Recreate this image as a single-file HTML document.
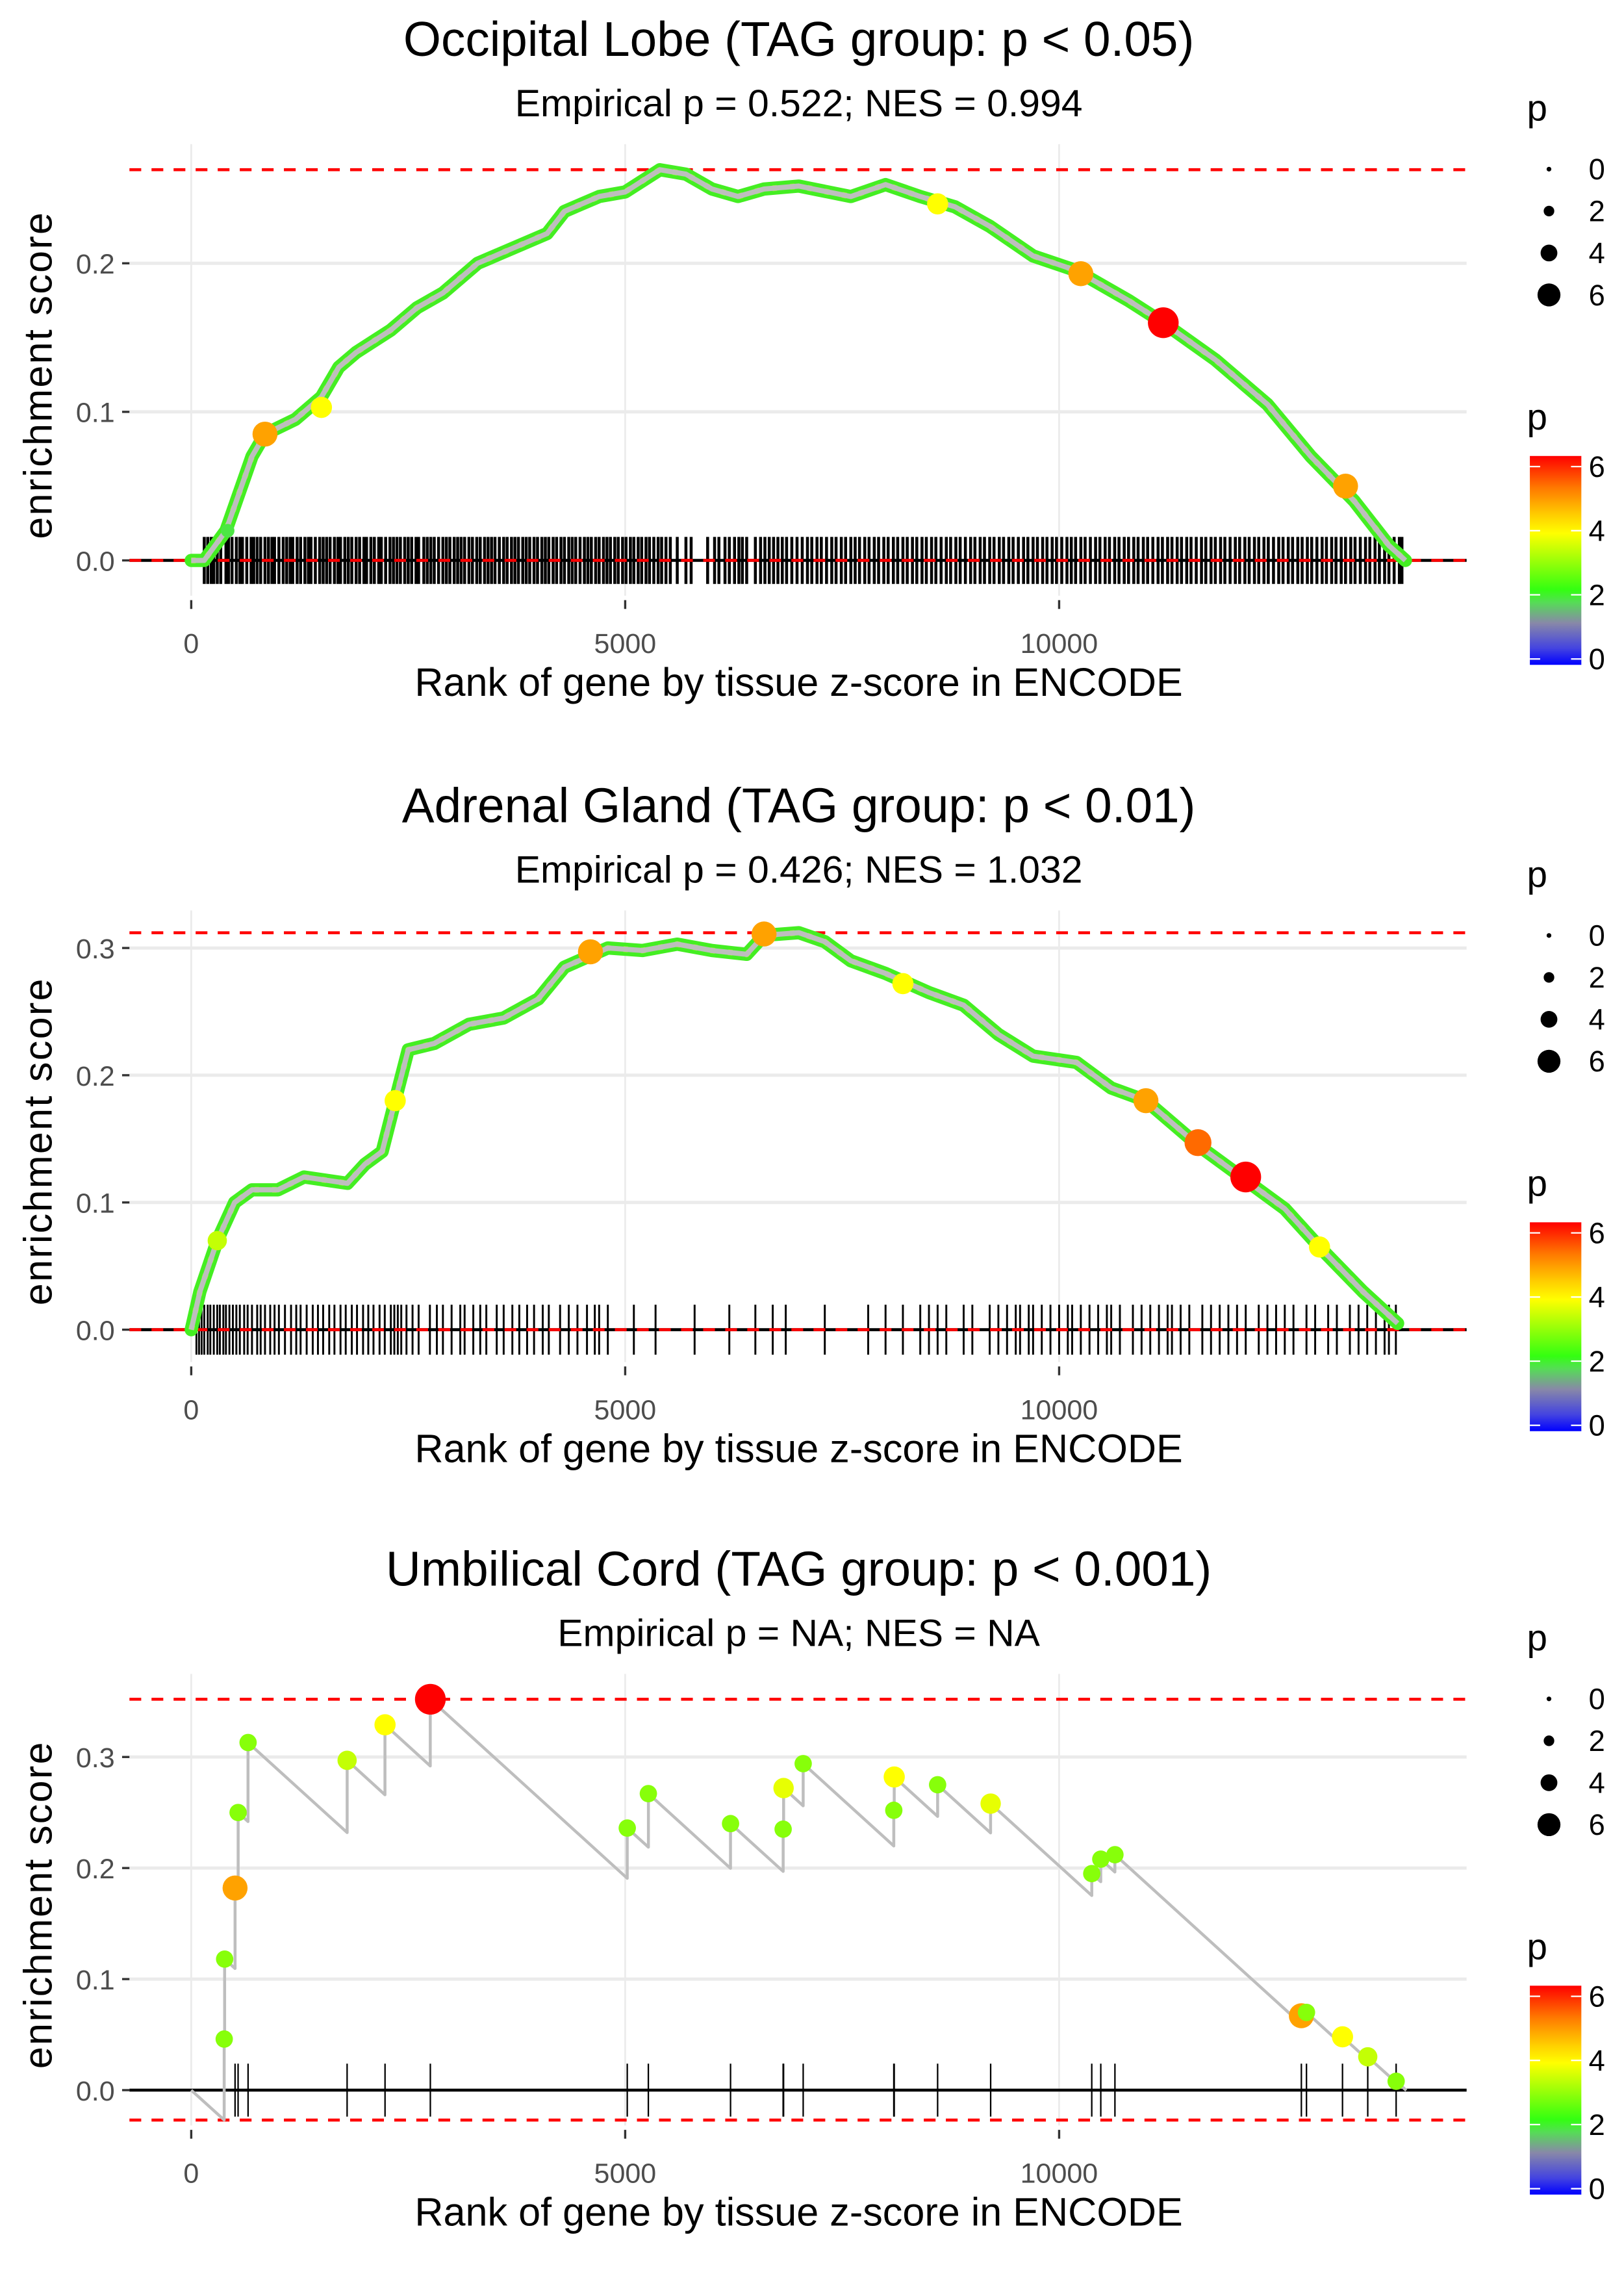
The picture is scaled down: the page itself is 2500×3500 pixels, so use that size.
<!DOCTYPE html>
<html><head><meta charset="utf-8">
<style>
html,body{margin:0;padding:0;background:#fff;}
svg{display:block;}
text{font-family:"Liberation Sans",sans-serif;}
</style></head>
<body>
<svg id="chart" width="2500" height="3500" viewBox="0 0 1104 1546" preserveAspectRatio="none" xmlns="http://www.w3.org/2000/svg">
<defs>
<linearGradient id="cbar" x1="0" y1="1" x2="0" y2="0">
<stop offset="0" stop-color="#0000ff"/>
<stop offset="0.08" stop-color="#4444e0"/>
<stop offset="0.2" stop-color="#8888a8"/>
<stop offset="0.3" stop-color="#55dd55"/>
<stop offset="0.36" stop-color="#33ff11"/>
<stop offset="0.63" stop-color="#ffff00"/>
<stop offset="0.72" stop-color="#ffcc00"/>
<stop offset="0.85" stop-color="#ff7700"/>
<stop offset="1" stop-color="#ff0000"/>
</linearGradient>
</defs>
</svg>
<script>
// ---- Panel 1 data: Occipital Lobe ----
const p1CurveRank=[0,150,400,700,850,1200,1500,1700,1900,2300,2600,2900,3300,3700,4100,4300,4700,5000,5400,5700,6000,6300,6600,7000,7600,8000,8400,8800,9200,9700,10200,10800,11200,11800,12400,12900,13400,13800,13990];
const p1CurveES=[0,0,0.02,0.07,0.085,0.095,0.11,0.13,0.14,0.155,0.17,0.18,0.2,0.21,0.22,0.235,0.245,0.248,0.263,0.26,0.25,0.245,0.25,0.252,0.245,0.253,0.245,0.238,0.225,0.205,0.195,0.175,0.16,0.135,0.105,0.07,0.04,0.01,0];
const p1PtRank=[850,1500,8600,10250,11200,13300,420];
const p1PtES=[0.085,0.103,0.24,0.193,0.16,0.05,0.02];
const p1PtP=[5,4,4,5,6.5,5,2];
const p1Hits=[150,190,230,260,300,340,400,430,470,520,560,590,640,690,720,760,800,850,890,930,960,1010,1060,1100,1140,1170,1220,1260,1310,1350,1380,1430,1480,1520,1560,1600,1650,1690,1720,1770,1810,1850,1900,1940,1990,2020,2070,2110,2160,2190,2240,2290,2330,2370,2410,2460,2500,2540,2590,2620,2680,2720,2760,2800,2850,2900,2940,2980,3030,3070,3110,3150,3200,3240,3290,3330,3380,3420,3460,3500,3550,3600,3640,3690,3730,3770,3820,3860,3900,3950,3990,4040,4080,4120,4170,4210,4260,4300,4350,4390,4430,4480,4530,4570,4610,4660,4700,4750,4790,4830,4880,4920,4970,5010,5060,5100,5150,5190,5240,5280,5330,5380,5420,5470,5520,5600,5700,5760,5950,6030,6080,6150,6200,6260,6310,6350,6400,6500,6560,6610,6660,6710,6760,6810,6860,6920,6980,7040,7100,7150,7210,7260,7320,7380,7430,7490,7540,7600,7650,7700,7760,7810,7870,7920,7980,8030,8090,8140,8200,8250,8310,8360,8420,8470,8530,8580,8640,8700,8750,8810,8860,8920,8980,9030,9090,9140,9200,9250,9310,9360,9420,9470,9530,9590,9640,9700,9750,9810,9860,9920,9970,10030,10090,10140,10190,10250,10300,10360,10420,10470,10530,10580,10640,10690,10750,10800,10860,10910,10970,11020,11080,11140,11190,11250,11300,11360,11410,11470,11520,11580,11640,11690,11750,11800,11860,11910,11970,12030,12080,12140,12190,12250,12300,12360,12410,12470,12530,12580,12640,12690,12750,12800,12860,12910,12970,13030,13080,13140,13190,13250,13300,13360,13410,13470,13530,13580,13640,13690,13750,13800,13860,13920,13950];

// ---- Panel 2 data: Adrenal Gland ----
const p2CurveRank=[0,100,300,500,700,1000,1300,1800,2000,2200,2350,2500,2800,3200,3600,4000,4300,4800,5200,5600,6000,6400,6600,7000,7300,7600,8000,8500,8900,9300,9700,10200,10600,11000,11600,12100,12600,13000,13500,13900];
const p2CurveES=[0,0.03,0.07,0.1,0.11,0.11,0.12,0.115,0.13,0.14,0.18,0.22,0.225,0.24,0.245,0.26,0.285,0.3,0.298,0.303,0.298,0.295,0.31,0.312,0.305,0.29,0.28,0.265,0.255,0.232,0.215,0.21,0.19,0.18,0.145,0.12,0.095,0.065,0.03,0.005];
const p2PtRank=[4600,6600,2350,11000,11600,12150,13000,8200,300];
const p2PtES=[0.297,0.311,0.18,0.18,0.147,0.12,0.065,0.272,0.07];
const p2PtP=[5,5,4,5,5.5,6.5,4,4,3.5];
const p2Hits=[60,90,120,150,190,220,260,300,330,370,400,440,480,520,560,610,650,700,760,800,850,910,960,1010,1080,1150,1210,1260,1330,1400,1460,1520,1590,1650,1720,1780,1850,1910,1980,2040,2100,2170,2230,2300,2340,2380,2420,2480,2550,2620,2750,2830,2900,3000,3100,3150,3250,3330,3400,3520,3600,3700,3780,3870,3950,4050,4120,4250,4350,4450,4560,4650,4700,4800,5100,5350,5800,6200,6500,6700,6850,7300,7800,8000,8200,8400,8500,8600,8700,8900,9000,9200,9300,9400,9500,9550,9650,9700,9800,9900,10000,10100,10150,10250,10350,10450,10550,10600,10700,10850,10950,11050,11150,11250,11300,11400,11500,11650,11750,11850,11950,12050,12150,12300,12400,12500,12600,12700,12850,12950,13100,13200,13350,13450,13550,13650,13750,13800,13880];

// ---- Panel 3 data: Umbilical Cord (hit rank, ES after hit, p) ----
const p3HitRank=[380,385,505,540,655,1796,2233,2755,5024,5267,6214,6820,6825,7051,8095,8100,8600,9211,10376,10480,10643,12791,12850,13265,13556,13883];
const p3HitES=[0.046,0.118,0.182,0.25,0.313,0.297,0.329,0.352,0.236,0.267,0.24,0.235,0.272,0.294,0.252,0.282,0.275,0.258,0.195,0.208,0.212,0.067,0.07,0.048,0.03,0.008];
const p3HitP=[3,3,5,3,3,3.5,4,6.5,3,3,3,3,3.8,3,3,4,3,3.8,3,3,3,5,3,4,3.5,3];
const p3MissStep=0.0000711;
const p3NGenes=14000;

const yTicks1=[0,0.1,0.2], yTicks2=[0,0.1,0.2,0.3], yTicks3=[0,0.1,0.2,0.3];
const xTicks=[0,5000,10000];
const legendVals=[0,2,4,6];
const cbarLabels=[6,4,2,0];

const NS="http://www.w3.org/2000/svg";
const svg=document.getElementById('chart');
function mk(tag,attrs,parent){const e=document.createElementNS(NS,tag);for(const k in attrs)e.setAttribute(k,attrs[k]);(parent||svg).appendChild(e);return e;}
function txt(s,attrs,parent){const e=mk('text',attrs,parent);e.textContent=s;return e;}
const X=r=>130+r*295/5000;
function pColor(p){
  const st=[[0,[0,0,255]],[0.5,[68,68,224]],[1.2,[136,136,168]],[1.9,[85,221,85]],[2.3,[51,255,17]],[4,[255,255,0]],[4.6,[255,204,0]],[5.4,[255,119,0]],[6.3,[255,0,0]]];
  if(p<=0)return 'rgb(0,0,255)';
  for(let i=1;i<st.length;i++){if(p<=st[i][0]){const t=(p-st[i-1][0])/(st[i][0]-st[i-1][0]);const c=st[i-1][1].map((v,j)=>Math.round(v+(st[i][1][j]-v)*t));return 'rgb('+c+')';}}
  return 'rgb(255,0,0)';
}
const pR=p=>2+1.3*p;

const panels=[
 {off:0,title:'Occipital Lobe (TAG group: p < 0.05)',sub:'Empirical p = 0.522; NES = 0.994',y0:381,ys:1010,ticks:yTicks1,half:16,type:'curve',cr:p1CurveRank,ce:p1CurveES,pr:p1PtRank,pe:p1PtES,pp:p1PtP,hits:p1Hits},
 {off:521,title:'Adrenal Gland (TAG group: p < 0.01)',sub:'Empirical p = 0.426; NES = 1.032',y0:383,ys:865,ticks:yTicks2,half:17,type:'curve',cr:p2CurveRank,ce:p2CurveES,pr:p2PtRank,pe:p2PtES,pp:p2PtP,hits:p2Hits},
 {off:1040,title:'Umbilical Cord (TAG group: p < 0.001)',sub:'Empirical p = NA; NES = NA',y0:381,ys:755,ticks:yTicks3,half:18,type:'step'}
];

panels.forEach((P,pi)=>{
  const g=mk('g',{transform:'translate(0,'+P.off+')'});
  
  
  const Y=v=>P.y0-v*P.ys;
  let t=txt(P.title,{x:543,y:38,'font-size':33,'text-anchor':'middle',fill:'#000'},g);
  
  t=txt(P.sub,{x:543,y:79,'font-size':26,'text-anchor':'middle',fill:'#000'},g);
  
  P.ticks.forEach(v=>{const l=mk('line',{x1:88,x2:997,y1:Y(v),y2:Y(v),stroke:'#ebebeb','stroke-width':2.2},g);});
  xTicks.forEach(v=>{const l=mk('line',{x1:X(v),x2:X(v),y1:98,y2:405,stroke:'#ebebeb','stroke-width':1.2},g);});
  let ranks,es,ptR,ptE,ptP,hits;
  if(P.type==='curve'){ranks=P.cr;es=P.ce;ptR=P.pr;ptE=P.pe;ptP=P.pp;hits=P.hits;}
  else{
    ranks=[0];es=[0];let pr=0,pe=0;
    p3HitRank.forEach((r,i)=>{const before=pe-p3MissStep*Math.max(0,r-pr-1);ranks.push(r);es.push(before);ranks.push(r);es.push(p3HitES[i]);pr=r;pe=p3HitES[i];});
    ranks.push(p3NGenes);es.push(pe-p3MissStep*(p3NGenes-pr));
    ptR=p3HitRank;ptE=p3HitES;ptP=p3HitP;hits=p3HitRank;
  }
  const mx=Math.max(...es),mn=Math.min(...es);
  hits.forEach(h=>{const l=mk('line',{x1:X(h),x2:X(h),y1:Y(0)-P.half,y2:Y(0)+P.half,stroke:'#000','stroke-width':pi===0?2:(pi===1?1.3:1)},g);});
  let l=mk('line',{x1:88,x2:997,y1:Y(0),y2:Y(0),stroke:'#000','stroke-width':2},g);
  
  [mx,mn].forEach((v,k)=>{const d=mk('line',{x1:88,x2:997,y1:Y(v),y2:Y(v),stroke:'#ff0000','stroke-width':2,'stroke-dasharray':'8,7'},g);});
  const pts=ranks.map((r,i)=>X(r).toFixed(1)+','+Y(es[i]).toFixed(1)).join(' ');
  if(P.type==='curve'){
    const c=mk('polyline',{points:pts,fill:'none',stroke:'#44ee22','stroke-width':9,'stroke-linejoin':'round','stroke-linecap':'round'},g);
    
    const c2=mk('polyline',{points:pts,fill:'none',stroke:'#aaff22','stroke-width':4,'stroke-linejoin':'round','stroke-dasharray':'3,9','stroke-opacity':0.8},g);
    
  }
  const line=mk('polyline',{points:pts,fill:'none',stroke:'#bebebe','stroke-width':P.type==='curve'?3.5:2,'stroke-linejoin':'round'},g);
  
  ptR.forEach((r,i)=>{const c=mk('circle',{cx:X(r),cy:Y(ptE[i]),r:pR(ptP[i]),fill:pColor(ptP[i])},g);});
  P.ticks.forEach(v=>{
    const tk=mk('line',{x1:83,x2:88,y1:Y(v),y2:Y(v),stroke:'#333','stroke-width':1.5},g);
    const tl=txt(v.toFixed(1),{x:78,y:Y(v)+7,'font-size':19,'text-anchor':'end',fill:'#4d4d4d'},g);
  });
  xTicks.forEach(v=>{
    const tk=mk('line',{x1:X(v),x2:X(v),y1:408,y2:414,stroke:'#333','stroke-width':1.5},g);
    const tl=txt(String(v),{x:X(v),y:444,'font-size':19,'text-anchor':'middle',fill:'#4d4d4d'},g);
  });
  t=txt('Rank of gene by tissue z-score in ENCODE',{x:543,y:473,'font-size':27,'text-anchor':'middle',fill:'#000'},g);
  
  t=txt('enrichment score',{x:0,y:0,'font-size':27,'text-anchor':'middle',fill:'#000','letter-spacing':'1',transform:'translate(35,255) rotate(-90)'},g);
  
  t=txt('p',{x:1038,y:82,'font-size':25,fill:'#000'},g);
  legendVals.forEach((v,i)=>{
    const yy=115+i*28.5;
    const c=mk('circle',{cx:1053,cy:yy,r:v===0?1.6:1.5+1.05*v,fill:'#000'},g);
    const tl=txt(String(v),{x:1080,y:yy+7,'font-size':20,fill:'#000'},g);
  });
  t=txt('p',{x:1038,y:292,'font-size':25,fill:'#000'},g);
  const cb=mk('rect',{x:1040,y:310,width:35,height:142,fill:'url(#cbar)'},g);
  
  cbarLabels.forEach(v=>{
    const yy=448-v*21.8;
    mk('line',{x1:1040,x2:1047,y1:yy,y2:yy,stroke:'#fff','stroke-width':1},g);
    mk('line',{x1:1068,x2:1075,y1:yy,y2:yy,stroke:'#fff','stroke-width':1},g);
    const tl=txt(String(v),{x:1080,y:yy+7,'font-size':20,fill:'#000'},g);
  });
});
</script>
</body></html>
